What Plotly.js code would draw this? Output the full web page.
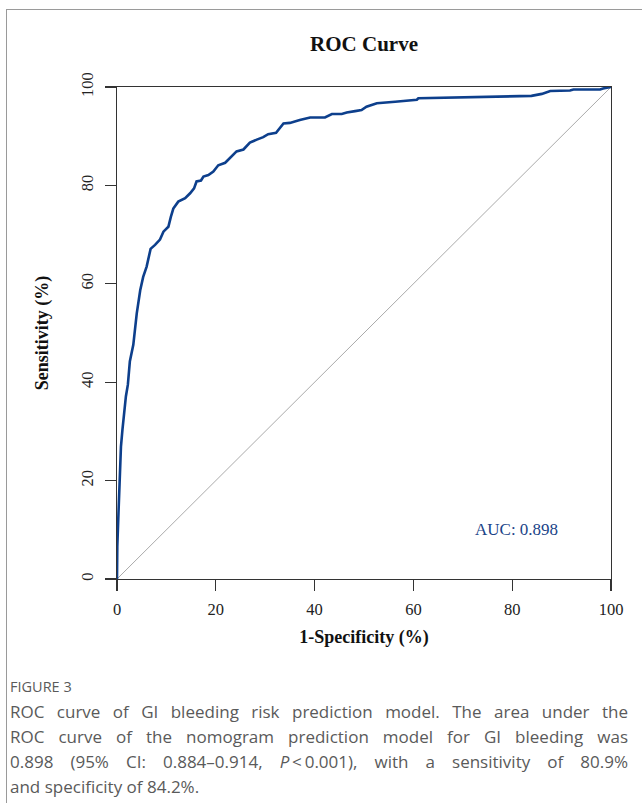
<!DOCTYPE html>
<html>
<head>
<meta charset="utf-8">
<script src="https://cdn.plot.ly/plotly-3.0.1.min.js"></script>
<style>
  html, body { margin: 0; padding: 0; background: #fff; }
  body { width: 642px; height: 803px; position: relative; overflow: hidden; }
  #frame { position: absolute; left: 6px; top: 9px; right: -2px; bottom: -2px;
           border-left: 1px solid #9a9a9a; border-top: 1px solid #9a9a9a; }
  #chart { position: absolute; left: 0; top: 0; width: 642px; height: 670px; }
  #caption { position: absolute; left: 10px; top: 674px; width: 618px;
             font-family: "Open Sans", "Noto Sans", sans-serif; color: #5a5a5a; }
  #caption .fig { font-size: 14.5px; line-height: 25px; }
  #caption .ln { font-size: 17px; line-height: 25px; text-align: justify; text-align-last: justify; white-space: nowrap; }
  #caption .last { text-align: left; text-align-last: left; }
</style>
</head>
<body>
<div id="frame"></div>
<div id="chart"></div>
<div id="caption">
  <div class="fig">FIGURE 3</div>
  <div class="ln">ROC curve of GI bleeding risk prediction model. The area under the</div>
  <div class="ln">ROC curve of the nomogram prediction model for GI bleeding was</div>
  <div class="ln">0.898 (95% CI: 0.884–0.914, <i>P</i>&#8201;&lt;&#8201;0.001), with a sensitivity of 80.9%</div>
  <div class="ln last">and specificity of 84.2%.</div>
</div>
<script>
// 1-Specificity (%) and Sensitivity (%) of the ROC curve
const fpr = [0, 0.06, 0.3, 0.5, 0.8, 1.1, 1.4, 1.8, 2.2, 2.6, 3.3, 4.0, 4.7, 5.3, 6.0, 6.8, 7.7, 8.7, 9.4, 10.4,
  10.9, 11.4, 12.4, 13.8, 14.8, 15.6, 16.1, 17.0, 17.5, 18.5, 19.5, 20.5, 21.9, 23.2, 24.2, 25.6, 26.9, 28.3,
  29.6, 30.6, 32.2, 33.7, 35.0, 37.0, 39.1, 42.1, 43.5, 45.5, 46.5, 48.2, 49.5, 50.5, 52.6, 56.3, 60.7, 61.0,
  72.1, 83.9, 86.0, 87.7, 91.7, 92.4, 97.8, 98.4, 100];
const tpr = [0, 6.6, 13.4, 20.1, 26.9, 30.3, 33.7, 37.1, 39.5, 44.2, 47.6, 54.0, 58.7, 61.4, 63.5, 67.1, 67.9, 69.0, 70.6, 71.6,
  73.6, 75.3, 76.7, 77.4, 78.4, 79.4, 80.8, 81.0, 81.8, 82.1, 82.8, 84.1, 84.6, 86.0, 86.9, 87.3, 88.7, 89.3,
  89.8, 90.4, 90.7, 92.6, 92.7, 93.3, 93.8, 93.8, 94.5, 94.5, 94.8, 95.1, 95.3, 96.0, 96.7, 97.0, 97.4, 97.7,
  97.9, 98.2, 98.6, 99.2, 99.3, 99.5, 99.5, 99.7, 100];
// reference (chance) line
const refX = [0, 100];
const refY = [0, 100];
// ticks
const tickVals = [0, 20, 40, 60, 80, 100];
const tickText = ["0", "20", "40", "60", "80", "100"];
const aucLabel = "AUC: 0.898";

const serif = "Liberation Serif, Times New Roman, serif";
const axisCommon = {
  range: [0, 100], showgrid: false, zeroline: false,
  showline: true, mirror: true, linecolor: "#333", linewidth: 1.3,
  ticks: "outside", ticklen: 11, tickwidth: 1.3, tickcolor: "#333",
  tickvals: tickVals, ticktext: tickText,
  tickfont: { family: serif, size: 16.5, color: "#222" },
  fixedrange: true
};

const data = [
  { x: refX, y: refY, type: "scatter", mode: "lines",
    line: { color: "#aaaaaa", width: 1 }, hoverinfo: "skip", showlegend: false },
  { x: fpr, y: tpr, type: "scatter", mode: "lines",
    line: { color: "#0d3f8c", width: 2.6 }, showlegend: false }
];

const layout = {
  width: 642, height: 670,
  margin: { l: 117, r: 31, t: 87, b: 91 },
  paper_bgcolor: "rgba(0,0,0,0)", plot_bgcolor: "#fff",
  title: { text: "<b>ROC Curve</b>", font: { family: serif, size: 21, color: "#111" },
           x: 0.5, xref: "paper", xanchor: "center", y: 1 - 44 / 670, yref: "container", yanchor: "middle" },
  xaxis: Object.assign({}, axisCommon, {
    ticklabelstandoff: 4,
    title: { text: "<b>1-Specificity (%)</b>", font: { family: serif, size: 18, color: "#111" }, standoff: 12 }
  }),
  yaxis: Object.assign({}, axisCommon, {
    tickangle: -90, ticklabelstandoff: 5,
    title: { text: "<b>Sensitivity (%)</b>", font: { family: serif, size: 18, color: "#111" }, standoff: 24 }
  }),
  annotations: [
    { x: 80.8, y: 10, xref: "x", yref: "y", text: aucLabel, showarrow: false,
      font: { family: serif, size: 17, color: "#1a4488" }, xanchor: "center", yanchor: "middle" }
  ]
};

Plotly.newPlot("chart", data, layout, { displayModeBar: false, staticPlot: true });
</script>
</body>
</html>
